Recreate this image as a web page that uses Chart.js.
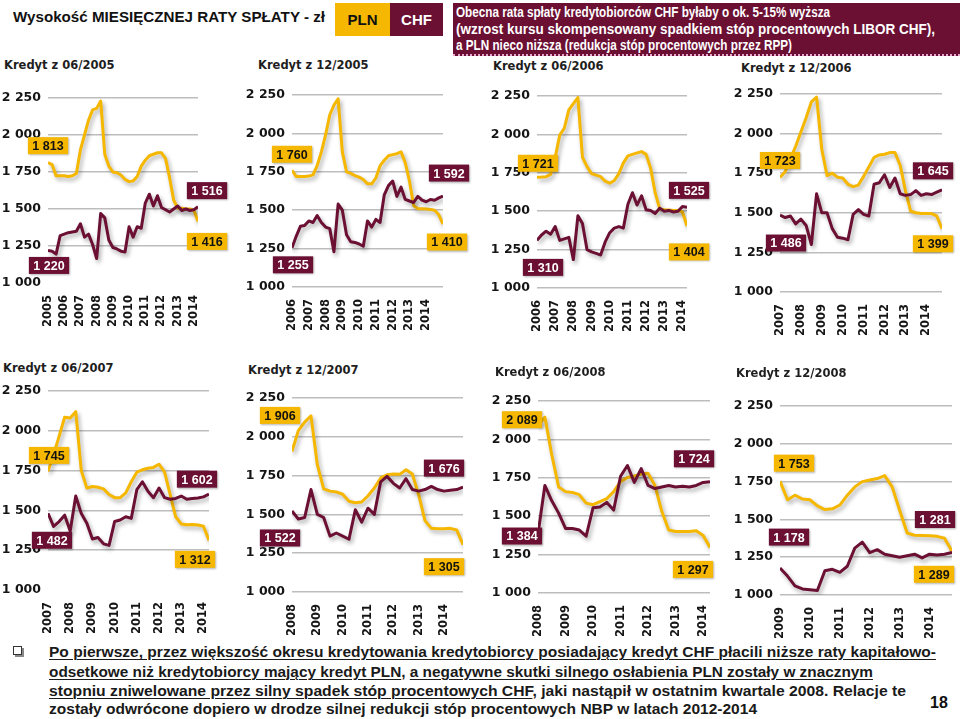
<!DOCTYPE html>
<html><head><meta charset="utf-8">
<script src="https://cdn.jsdelivr.net/npm/chart.js@4.4.1/dist/chart.umd.min.js"></script>
<style>
html,body{margin:0;padding:0;width:960px;height:719px;overflow:hidden;background:#fff;}
canvas{position:absolute;}
.fit{position:absolute;white-space:nowrap;transform-origin:0 50%;}
.ptitle{position:absolute;white-space:nowrap;font:bold 11.5px 'DejaVu Sans',sans-serif;color:#1e1e1e;line-height:14px;margin-top:-7px;}
.box{position:absolute;display:flex;align-items:center;justify-content:center;font:bold 15px 'Liberation Sans',Arial,sans-serif;}
u{text-decoration-thickness:1px;text-underline-offset:2px;}
</style></head><body>

<div class="fit" data-w="312" style="left:13px;top:8px;line-height:18px;font:bold 15px 'Liberation Sans',Arial,sans-serif;color:#111;">Wysokość MIESIĘCZNEJ RATY SPŁATY - zł</div>
<div class="box" style="left:335px;top:3px;width:55px;height:33px;background:#F5B700;color:#111;">PLN</div>
<div class="box" style="left:390px;top:3px;width:53px;height:33px;background:#6B0F33;color:#fff;">CHF</div>
<div style="position:absolute;left:453px;top:3px;width:507px;height:51px;background:#6B0F33;border-bottom:2px dotted #e9a6cf;"></div>
<div class="fit" data-w="374" style="left:456px;top:4px;line-height:17px;font:bold 14px 'Liberation Sans',Arial,sans-serif;color:#fff;">Obecna rata spłaty kredytobiorców CHF byłaby o ok. 5-15% wyższa</div>
<div class="fit" data-w="479" style="left:456px;top:21px;line-height:17px;font:bold 14px 'Liberation Sans',Arial,sans-serif;color:#fff;">(wzrost kursu skompensowany spadkiem stóp procentowych LIBOR CHF),</div>
<div class="fit" data-w="336" style="left:456px;top:37px;line-height:17px;font:bold 14px 'Liberation Sans',Arial,sans-serif;color:#fff;">a PLN nieco niższa (redukcja stóp procentowych przez RPP)</div>

<div id="charts"></div>

<div style="position:absolute;left:13px;top:646px;width:7px;height:7px;border:1.5px solid #333;box-shadow:2px 2px 0 #888;"></div>
<div class="fit" data-w="887" style="left:49px;top:643px;line-height:18px;font:bold 15px 'Liberation Sans Narrow','Liberation Sans',Arial,sans-serif;color:#1a1a1a;"><u>Po pierwsze, przez większość okresu kredytowania kredytobiorcy posiadający kredyt CHF płacili niższe raty kapitałowo-</u></div>
<div class="fit" data-w="824" style="left:49px;top:663px;line-height:18px;font:bold 15px 'Liberation Sans Narrow','Liberation Sans',Arial,sans-serif;color:#1a1a1a;"><u>odsetkowe niż kredytobiorcy mający kredyt PLN</u>, <u>a negatywne skutki silnego osłabienia PLN zostały w znacznym</u></div>
<div class="fit" data-w="857" style="left:49px;top:682px;line-height:18px;font:bold 15px 'Liberation Sans Narrow','Liberation Sans',Arial,sans-serif;color:#1a1a1a;"><u>stopniu zniwelowane przez silny spadek stóp procentowych CHF</u>, jaki nastąpił w ostatnim kwartale 2008. Relacje te</div>
<div class="fit" data-w="708" style="left:49px;top:700px;line-height:18px;font:bold 15px 'Liberation Sans Narrow','Liberation Sans',Arial,sans-serif;color:#1a1a1a;">zostały odwrócone dopiero w drodze silnej redukcji stóp procentowych NBP w latach 2012-2014</div>
<div style="position:absolute;left:930px;top:694px;font:bold 16px 'Liberation Sans',Arial,sans-serif;color:#111;">18</div>

<script>
// ---- data (quarterly readings from each credit's start month) ----
const titles = ['Kredyt z 06/2005','Kredyt z 12/2005','Kredyt z 06/2006','Kredyt z 12/2006',
                'Kredyt z 06/2007','Kredyt z 12/2007','Kredyt z 06/2008','Kredyt z 12/2008'];
const startDates = [2005.417, 2005.917, 2006.417, 2006.917, 2007.417, 2007.917, 2008.417, 2008.917];
const stepYears = 0.25;

const years_0605 = ['2005','2006','2007','2008','2009','2010','2011','2012','2013','2014'];
const years_1205 = ['2006','2007','2008','2009','2010','2011','2012','2013','2014'];
const years_0606 = ['2006','2007','2008','2009','2010','2011','2012','2013','2014'];
const years_1206 = ['2007','2008','2009','2010','2011','2012','2013','2014'];
const years_0607 = ['2007','2008','2009','2010','2011','2012','2013','2014'];
const years_1207 = ['2008','2009','2010','2011','2012','2013','2014'];
const years_0608 = ['2008','2009','2010','2011','2012','2013','2014'];
const years_1208 = ['2009','2010','2011','2012','2013','2014'];

const pln_0605 = [1813,1800,1725,1725,1725,1720,1725,1740,1900,2000,2100,2170,2180,2230,1870,1790,1750,1745,1730,1700,1685,1690,1720,1790,1830,1860,1870,1880,1880,1840,1710,1560,1505,1505,1500,1500,1490,1416];
const chf_0605 = [1220,1215,1195,1320,1330,1340,1345,1350,1400,1310,1330,1260,1165,1470,1440,1290,1240,1230,1215,1210,1380,1310,1380,1370,1540,1600,1520,1590,1510,1495,1480,1500,1520,1490,1500,1490,1495,1516];
const pln_1205 = [1760,1720,1720,1720,1722,1730,1790,1880,1990,2120,2185,2225,1880,1750,1740,1725,1715,1700,1672,1672,1710,1790,1825,1855,1862,1868,1880,1810,1690,1530,1510,1510,1508,1505,1500,1470,1410];
const chf_1205 = [1255,1330,1395,1400,1430,1420,1465,1420,1390,1380,1230,1540,1500,1340,1295,1290,1280,1265,1430,1390,1440,1420,1600,1660,1690,1590,1650,1570,1560,1550,1590,1565,1555,1570,1565,1580,1592];
const pln_0606 = [1721,1722,1725,1740,1850,1995,2040,2160,2200,2240,1850,1790,1745,1735,1725,1695,1682,1700,1745,1815,1860,1870,1880,1888,1870,1780,1620,1515,1510,1508,1505,1505,1495,1404];
const chf_0606 = [1310,1345,1370,1350,1400,1310,1320,1330,1185,1470,1420,1250,1235,1225,1215,1300,1360,1390,1400,1390,1545,1620,1540,1600,1510,1505,1485,1520,1500,1505,1495,1500,1530,1525];
const pln_1206 = [1723,1760,1840,1920,2010,2100,2200,2230,1900,1735,1750,1725,1720,1680,1665,1675,1730,1790,1850,1865,1870,1880,1880,1800,1640,1510,1500,1495,1495,1495,1480,1399];
const chf_1206 = [1486,1470,1480,1430,1460,1420,1300,1620,1500,1500,1400,1345,1340,1330,1490,1520,1490,1480,1680,1690,1740,1660,1720,1620,1610,1615,1640,1610,1620,1615,1630,1645];
const pln_0607 = [1745,1850,1965,2085,2080,2120,1750,1640,1650,1645,1635,1600,1580,1580,1610,1680,1740,1755,1765,1770,1790,1740,1600,1460,1415,1410,1412,1408,1400,1312];
const chf_0607 = [1482,1400,1430,1470,1370,1590,1480,1420,1320,1330,1290,1280,1430,1440,1460,1450,1630,1680,1620,1580,1640,1580,1570,1575,1590,1570,1575,1578,1585,1602];
const pln_1207 = [1906,2040,2095,2135,1820,1665,1650,1645,1630,1585,1575,1580,1620,1670,1735,1755,1760,1758,1788,1760,1627,1460,1410,1408,1408,1410,1400,1305];
const chf_1207 = [1522,1470,1480,1660,1500,1480,1360,1380,1360,1340,1530,1450,1540,1500,1710,1745,1700,1670,1730,1660,1650,1660,1680,1660,1650,1655,1660,1676];
const pln_0608 = [2089,2145,1900,1690,1660,1655,1640,1585,1575,1595,1615,1660,1725,1752,1762,1775,1780,1700,1530,1410,1400,1400,1400,1405,1375,1297];
const chf_0608 = [1384,1700,1600,1520,1420,1420,1410,1370,1555,1560,1590,1540,1760,1830,1720,1810,1700,1680,1690,1700,1690,1695,1690,1700,1720,1724];
const pln_1208 = [1753,1630,1660,1635,1630,1590,1565,1570,1595,1660,1715,1750,1760,1770,1790,1715,1560,1410,1395,1393,1392,1388,1375,1289];
const chf_1208 = [1178,1125,1060,1040,1035,1030,1160,1170,1150,1190,1310,1350,1280,1300,1270,1260,1250,1260,1270,1245,1270,1265,1270,1281];

const yTicks = [1000,1250,1500,1750,2000,2250];

const seriesPLN = [pln_0605,pln_1205,pln_0606,pln_1206,pln_0607,pln_1207,pln_0608,pln_1208];
const seriesCHF = [chf_0605,chf_1205,chf_0606,chf_1206,chf_0607,chf_1207,chf_0608,chf_1208];
const yearSets  = [years_0605,years_1205,years_0606,years_1206,years_0607,years_1207,years_0608,years_1208];

// ---- layout / styling (page pixels) ----
const GOLD = '#F5B700', MAROON = '#6B0F33';
const layouts = [
 {L:48, T:98, R:198,B:283, tx:4,  ty:65,  base:false, off:[[0,-17],[1,15],[9,-16],[9,20]]},
 {L:292,T:95, R:443,B:287, tx:258,ty:65,  base:true,  off:[[0,-16],[1,17],[6,-23],[4,18]]},
 {L:537,T:96, R:687,B:288, tx:493,ty:66,  base:true,  off:[[1,-14],[6,27],[2,-17],[2,26]]},
 {L:780,T:94, R:942,B:292, tx:741,ty:68,  base:true,  off:[[0,-17],[6,28],[-9,-19],[-9,15]]},
 {L:48, T:391,R:209,B:590, tx:3,  ty:368, base:false, off:[[1,-16],[4,27],[-12,-15],[-14,19]]},
 {L:292,T:398,R:463,B:592, tx:248,ty:370, base:true,  off:[[-12,-36],[-12,27],[-19,-19],[-19,22]]},
 {L:538,T:401,R:710,B:593, tx:495,ty:372, base:true,  off:[[-16,-6],[-16,2],[-16,-23],[-17,22]]},
 {L:780,T:406,R:952,B:595, tx:736,ty:373, base:true,  off:[[14,-18],[9,-31],[-17,-33],[-18,23]]}
];
const PADL = 48, PADT = 22, PADR = 34, PADB = 45;

function fmt(v){ const s = String(Math.round(v)); return s.length > 3 ? s.slice(0, s.length-3) + ' ' + s.slice(-3) : s; }

const shadowPlugin = {
  id:'lineShadow',
  beforeDatasetDraw(chart){ const c = chart.ctx; c.save(); c.shadowColor='rgba(0,0,0,0.32)'; c.shadowBlur=4; c.shadowOffsetX=2; c.shadowOffsetY=3; },
  afterDatasetDraw(chart){ chart.ctx.restore(); }
};

const host = document.getElementById('charts');
layouts.forEach((lay, p) => {
  const start = startDates[p];
  const pln = seriesPLN[p], chf = seriesCHF[p], years = yearSets[p];
  const t = document.createElement('div');
  t.className = 'ptitle'; t.style.left = lay.tx + 'px'; t.style.top = lay.ty + 'px';
  t.textContent = titles[p]; host.appendChild(t);

  const cv = document.createElement('canvas');
  const w = (lay.R - lay.L) + PADL + PADR, h = (lay.B - lay.T) + PADT + PADB;
  cv.width = w; cv.height = h;
  cv.style.left = (lay.L - PADL) + 'px'; cv.style.top = (lay.T - PADT) + 'px';
  cv.style.width = w + 'px'; cv.style.height = h + 'px';
  host.appendChild(cv);

  const items = [
    {ds:1, end:false, d:lay.off[0], bg:GOLD,   fg:'#111'},
    {ds:0, end:false, d:lay.off[1], bg:MAROON, fg:'#fff'},
    {ds:0, end:true,  d:lay.off[2], bg:MAROON, fg:'#fff'},
    {ds:1, end:true,  d:lay.off[3], bg:GOLD,   fg:'#111'}
  ];
  const boxPlugin = {
    id:'valueBoxes',
    afterDatasetsDraw(chart){
      const ctx = chart.ctx;
      items.forEach(it => {
        const meta = chart.getDatasetMeta(it.ds);
        const idx = it.end ? meta.data.length - 1 : 0;
        const pt = meta.data[idx];
        const txt = fmt(chart.data.datasets[it.ds].data[idx].y);
        ctx.save();
        ctx.font = "bold 12.5px 'Liberation Sans', Arial, sans-serif";
        const bw = ctx.measureText(txt).width + 9, bh = 17;
        const cx = pt.x + it.d[0], cy = pt.y + it.d[1];
        ctx.shadowColor = 'rgba(0,0,0,0.3)'; ctx.shadowBlur = 2; ctx.shadowOffsetX = 1; ctx.shadowOffsetY = 1;
        ctx.fillStyle = it.bg; ctx.fillRect(cx - bw/2, cy - bh/2, bw, bh);
        ctx.shadowColor = 'transparent';
        ctx.fillStyle = it.fg; ctx.textAlign = 'center'; ctx.textBaseline = 'middle';
        ctx.fillText(txt, cx, cy + 1);
        ctx.restore();
      });
    }
  };

  new Chart(cv, {
    type:'line',
    data:{ datasets:[
      {label:'CHF', data: chf.map((v,i)=>({x:start + i*stepYears, y:v})), borderColor:MAROON, borderWidth:3, pointRadius:0, tension:0, borderJoinStyle:'round'},
      {label:'PLN', data: pln.map((v,i)=>({x:start + i*stepYears, y:v})), borderColor:GOLD,   borderWidth:3, pointRadius:0, tension:0, borderJoinStyle:'round'}
    ]},
    options:{
      responsive:false, animation:false, devicePixelRatio:1,
      layout:{padding:{left:0, top:PADT, right:PADR, bottom:0}},
      plugins:{legend:{display:false}, tooltip:{enabled:false}, title:{display:false}},
      scales:{
        x:{ type:'linear', min:start, max:start + (pln.length-1)*stepYears,
            afterBuildTicks: s => { s.ticks = years.map((y,i)=>({value:start + i})); },
            afterFit: s => { s.height = PADB; },
            ticks:{ autoSkip:false, minRotation:90, maxRotation:90, padding:4, color:'#151515',
                    font:{family:'DejaVu Sans', weight:'bold', size:11.5},
                    callback:(v,i)=>years[i] },
            grid:{display:false}, border:{display:false} },
        y:{ min:yTicks[0], max:yTicks[yTicks.length-1],
            afterBuildTicks: s => { s.ticks = yTicks.map(v=>({value:v})); },
            afterFit: s => { s.width = PADL; },
            ticks:{ padding:7, color:'#151515', font:{family:'DejaVu Sans', weight:'bold', size:12.5}, callback:v=>fmt(v) },
            grid:{ drawTicks:false, lineWidth:1.5,
                   color: c => (!lay.base && c.tick && c.tick.value === yTicks[0]) ? 'rgba(0,0,0,0)' : '#bdbdbd' },
            border:{display:false} }
      }
    },
    plugins:[shadowPlugin, boxPlugin]
  });
});

// fit text lines to their measured widths in the reference
document.querySelectorAll('.fit').forEach(el => {
  const target = parseFloat(el.dataset.w);
  const actual = el.getBoundingClientRect().width;
  if (actual > 0) el.style.transform = 'scaleX(' + (target/actual).toFixed(4) + ')';
});
</script>
</body></html>
